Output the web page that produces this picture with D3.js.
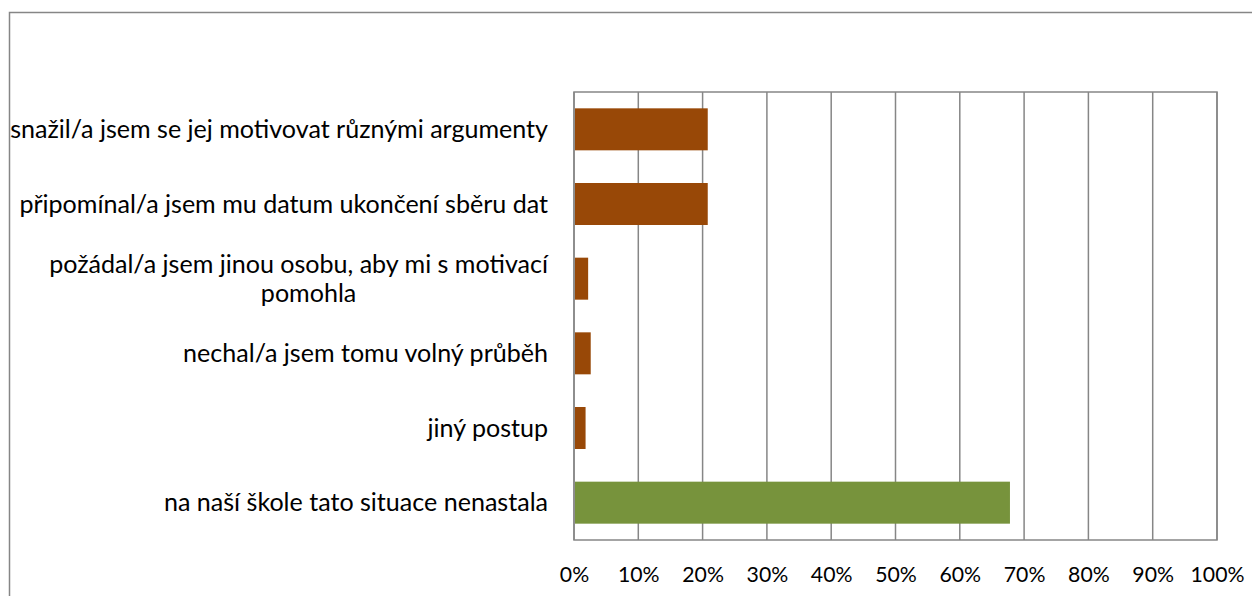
<!DOCTYPE html>
<html>
<head>
<meta charset="utf-8">
<script src="https://cdn.jsdelivr.net/npm/d3@7/dist/d3.min.js"></script>
<style>
  html, body { margin: 0; padding: 0; background: #fff; }
  svg { display: block; }
  text { font-family: Lato, "Open Sans", sans-serif; fill: #000; }
</style>
</head>
<body>
<svg id="chart" width="1252" height="596"></svg>
<script>
const categories = [
  "snažil/a jsem se jej motivovat různými argumenty",
  "připomínal/a jsem mu datum ukončení sběru dat",
  "požádal/a jsem jinou osobu, aby mi s motivací|pomohla",
  "nechal/a jsem tomu volný průběh",
  "jiný postup",
  "na naší škole tato situace nenastala"
];
const values = [0.208, 0.208, 0.022, 0.026, 0.018, 0.678];
const barColors = ["#984807", "#984807", "#984807", "#984807", "#984807", "#77933C"];
const tickValues = [0, 0.1, 0.2, 0.3, 0.4, 0.5, 0.6, 0.7, 0.8, 0.9, 1.0];
const tickLabels = ["0%", "10%", "20%", "30%", "40%", "50%", "60%", "70%", "80%", "90%", "100%"];

const svg = d3.select("#chart");
const plot = { left: 574, right: 1217, top: 92, bottom: 540 };

// outer chart border
svg.append("rect")
  .attr("x", 9.5).attr("y", 12.5)
  .attr("width", 1300).attr("height", 700)
  .attr("fill", "#fff")
  .attr("stroke", "#868686").attr("stroke-width", 1.5);

const x = d3.scaleLinear().domain([0, 1]).range([plot.left, plot.right]);
const y = d3.scaleBand().domain(categories).range([plot.top, plot.bottom]).paddingInner(0.4375).paddingOuter(0.21875);

// gridlines
svg.append("g").selectAll("line")
  .data(tickValues)
  .join("line")
  .attr("x1", d => x(d)).attr("x2", d => x(d))
  .attr("y1", plot.top).attr("y2", plot.bottom)
  .attr("stroke", "#868686").attr("stroke-width", 1.5);

// plot border
svg.append("rect")
  .attr("x", plot.left).attr("y", plot.top)
  .attr("width", plot.right - plot.left).attr("height", plot.bottom - plot.top)
  .attr("fill", "none").attr("stroke", "#868686").attr("stroke-width", 1.5);

// bars
svg.append("g").selectAll("rect")
  .data(categories)
  .join("rect")
  .attr("x", x(0) + 1)
  .attr("y", d => y(d))
  .attr("width", (d, i) => x(values[i]) - x(0) - 1)
  .attr("height", y.bandwidth())
  .attr("fill", (d, i) => barColors[i]);

// fitted font sizes
function fit(str, target) {
  const p = svg.append("text").style("font-size", "20px").text(str);
  const w = p.node().getComputedTextLength();
  p.remove();
  return 20 * target / w;
}
const fs = fit(categories[0], 538);
const tfs = Math.max(fit("100%", 54), 21);

// x-axis tick labels
const xAxis = d3.axisBottom(x).tickValues(tickValues).tickFormat((d, i) => tickLabels[i]).tickSize(0).tickPadding(0);
const gx = svg.append("g").attr("transform", `translate(0,${plot.bottom})`).call(xAxis);
gx.select(".domain").remove();
gx.selectAll("text")
  .attr("y", 42).attr("dy", null)
  .style("font-family", "Lato, 'Open Sans', sans-serif")
  .style("font-size", tfs + "px").attr("fill", "#000");

// category labels
const labelRight = 548;
const yAxis = d3.axisLeft(y).tickSize(0).tickFormat("");
const gy = svg.append("g").attr("transform", `translate(${plot.left},0)`).call(yAxis);
gy.select(".domain").remove();

const lab = svg.append("g");
categories.forEach((c, i) => {
  const lines = c.split("|");
  const cy = y(c) + y.bandwidth() / 2;
  const lh = 29;
  if (lines.length === 1) {
    lab.append("text").attr("x", labelRight).attr("y", cy).attr("dy", "0.35em")
      .attr("text-anchor", "end").style("font-size", fs + "px").text(lines[0]);
  } else {
    const t1 = lab.append("text").attr("x", labelRight).attr("y", cy - lh / 2).attr("dy", "0.35em")
      .attr("text-anchor", "end").style("font-size", fs + "px").text(lines[0]);
    const w1 = t1.node().getComputedTextLength();
    lab.append("text").attr("x", labelRight - w1 / 2 + 10).attr("y", cy + lh / 2).attr("dy", "0.35em")
      .attr("text-anchor", "middle").style("font-size", fs + "px").text(lines[1]);
  }
});
</script>
</body>
</html>
